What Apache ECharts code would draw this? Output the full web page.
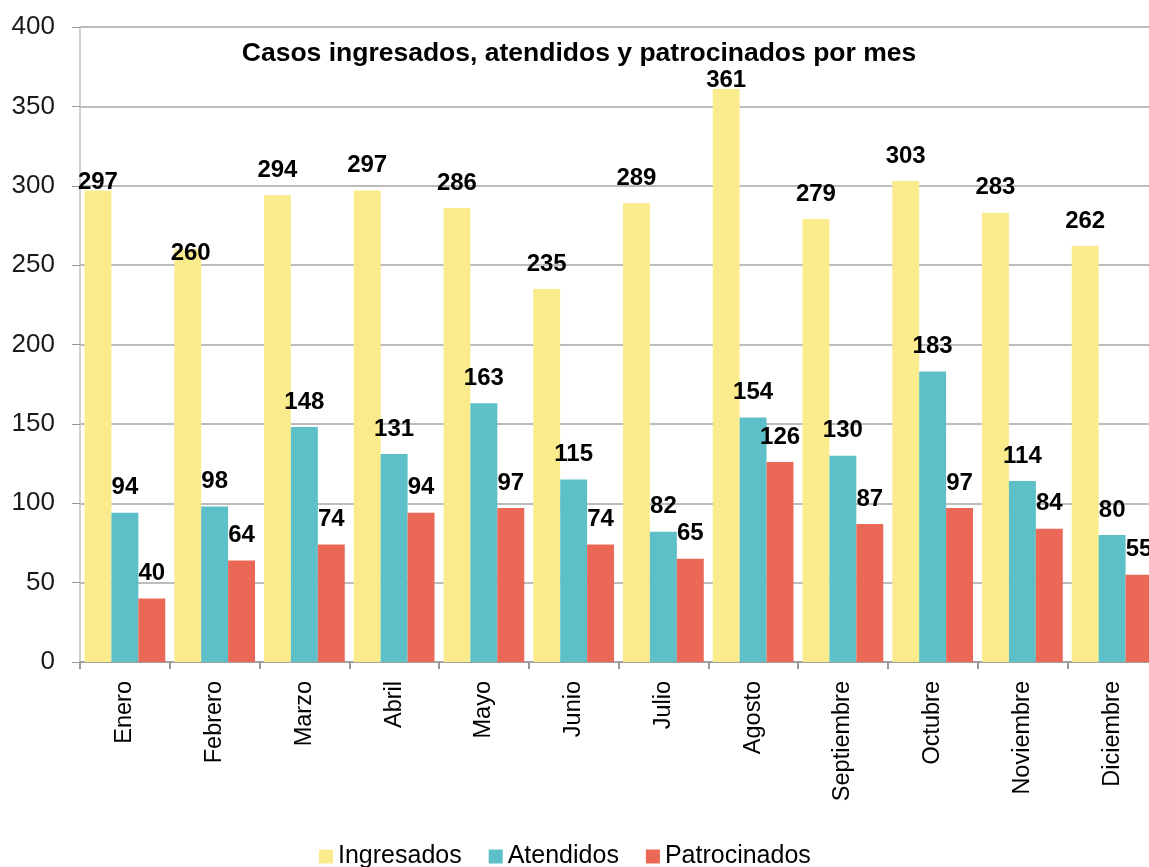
<!DOCTYPE html>
<html><head><meta charset="utf-8">
<script src="https://cdn.jsdelivr.net/npm/echarts@6/dist/echarts.min.js"></script>
<style>html,body{margin:0;padding:0;background:#fff;overflow:hidden}#c{width:1160px;height:867px}</style>
</head><body><div id="c"></div>
<script>
const months = ['Enero','Febrero','Marzo','Abril','Mayo','Junio','Julio','Agosto','Septiembre','Octubre','Noviembre','Diciembre'];
const ingresados = [297,260,294,297,286,235,289,361,279,303,283,262];
const atendidos = [94,98,148,131,163,115,82,154,130,183,114,80];
const patrocinados = [40,64,74,94,97,74,65,126,87,97,84,55];
const seriesNames = ['Ingresados','Atendidos','Patrocinados'];
const yTicks = [0,50,100,150,200,250,300,350,400];
const colors = ['#FAEC8C','#5DBFC7','#EB6857'];
// manual label nudges (style only), keyed by category index for the Ingresados series
const ingLabelNudge = {0:[0,17],1:[3,29],7:[0,16]};
const chart = echarts.init(document.getElementById('c'));
const lbl = {show:true,position:'top',distance:13,color:'#000',fontFamily:'Liberation Sans, Arial',fontWeight:'bold',fontSize:24};
const ingData = ingresados.map((v,i)=> ingLabelNudge[i] ? {value:v,label:{offset:ingLabelNudge[i]}} : v);
chart.setOption({
  animation:false,
  title:{text:'Casos ingresados, atendidos y patrocinados por mes',left:574,top:35,textAlign:'center',
    textStyle:{fontFamily:'Liberation Sans, Arial',fontWeight:'bold',fontSize:26.5,color:'#000'}},
  legend:{top:839,left:314,itemWidth:14,itemHeight:14,itemGap:27,icon:'rect',
    textStyle:{fontFamily:'Liberation Sans, Arial',fontSize:25,color:'#000'},data:seriesNames},
  grid:{left:80,width:1077,top:27,height:635,containLabel:false},
  xAxis:{type:'category',data:months,
    axisLine:{lineStyle:{color:'#999',width:1.5}},
    axisTick:{show:true,length:7,lineStyle:{color:'#999',width:2}},
    axisLabel:{rotate:90,margin:19,color:'#000',fontFamily:'Liberation Sans, Arial',fontSize:23.5,interval:0}},
  yAxis:{type:'value',min:yTicks[0],max:yTicks[yTicks.length-1],interval:yTicks[1]-yTicks[0],
    axisLine:{show:true,lineStyle:{color:'#c0c0c0',width:1.5}},
    axisTick:{show:true,length:8,lineStyle:{color:'#999'}},
    axisLabel:{margin:25,color:'#1a1a1a',fontFamily:'Liberation Sans, Arial',fontSize:26},
    splitLine:{lineStyle:{color:'#a6a6a6',width:1.5}}},
  series:[
    {name:seriesNames[0],type:'bar',data:ingData,itemStyle:{color:colors[0]},barGap:'0%',barCategoryGap:'10%',label:lbl},
    {name:seriesNames[1],type:'bar',data:atendidos,itemStyle:{color:colors[1]},barGap:'0%',barCategoryGap:'10%',label:lbl},
    {name:seriesNames[2],type:'bar',data:patrocinados,itemStyle:{color:colors[2]},barGap:'0%',barCategoryGap:'10%',label:lbl}
  ]
});
</script></body></html>
